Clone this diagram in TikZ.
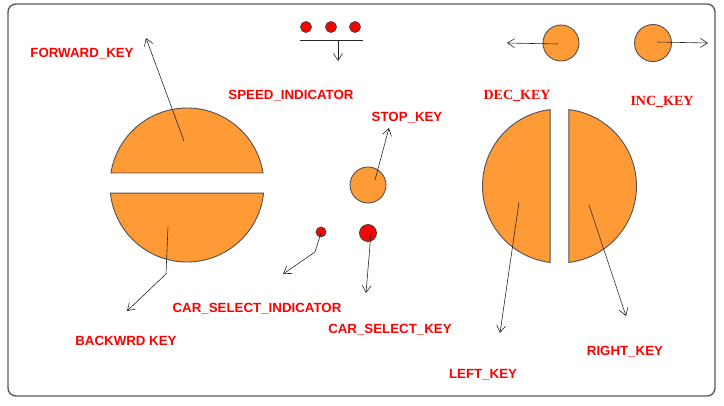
\documentclass[tikz,border=0pt]{standalone}
\usepackage{fontspec}
\setmainfont{Liberation Sans}
\newfontfamily\serifb{Liberation Serif}
\usetikzlibrary{arrows.meta}
\definecolor{keyorange}{RGB}{255,155,55}
\definecolor{edgegray}{RGB}{80,80,80}
\definecolor{lblred}{RGB}{255,0,0}
\tikzset{
 key/.style={fill=keyorange,draw=edgegray,line width=0.9pt},
 keycirc/.style={key,circle,inner sep=0pt,minimum size=#1},
 led/.style={circle,fill=red,draw=black!75,line width=0.8pt,inner sep=0pt,minimum size=#1},
 lbl/.style={text=lblred,font=\bfseries\fontsize{13.3}{15}\selectfont,inner sep=0pt},
 lbltwo/.style={text=lblred,font=\serifb\bfseries\fontsize{14}{16}\selectfont,inner sep=0pt},
 ptr/.style={draw=black!85,line width=0.6pt,-{Straight Barb[length=7pt,width=9pt]}},
}
\begin{document}
\begin{tikzpicture}[x=1pt,y=1pt]
\useasboundingbox (0,0) rectangle (724,-405);
% frame
\draw[rounded corners=8pt,draw=black!65,line width=1.4pt] (8,-4) rectangle (715,-396);

% forward / backward keys
\coordinate (fbc) at (187,-185);
\draw[key] ([shift={(9:77)}]fbc) arc[start angle=9,end angle=171,radius=77] -- cycle;
\draw[key] ([shift={(-6:77)}]fbc) arc[start angle=-6,end angle=-174,radius=77] -- cycle;

% left / right keys
\coordinate (lrc) at (559.5,-186);
\draw[key] ([shift={(97:77)}]lrc) arc[start angle=97,end angle=263,radius=77] -- cycle;
\draw[key] ([shift={(83:77)}]lrc) arc[start angle=83,end angle=-83,radius=77] -- cycle;

% small keys
\node[keycirc=36pt] (dec) at (561,-43) {};
\node[keycirc=37pt] (inc) at (653,-43) {};
\node[keycirc=36pt] (stop) at (368,-185) {};
\node[led=17pt] (csk) at (368,-233) {};
\node[led=10pt] (csi) at (321,-232) {};

% speed indicator
\node[led=11pt] (s1) at (306,-27) {};
\node[led=11pt] (s2) at (331,-27) {};
\node[led=11pt] (s3) at (355,-27) {};
\coordinate (barl) at (300,-40);
\coordinate (barr) at (363,-40);
\draw[black!85,line width=0.8pt] (barl) -- (barr);

% labels
\node[lbl] (lfwd) at (82,-54) {FORWARD\_KEY};
\node[lbl] (lspd) at (291,-96) {SPEED\_INDICATOR};
\node[lbl] (lstop) at (407,-118) {STOP\_KEY};
\node[lbltwo] (ldec) at (517,-96) {DEC\_KEY};
\node[lbltwo] (linc) at (662,-102) {INC\_KEY};
\node[lbl] (lcsi) at (257,-309) {CAR\_SELECT\_INDICATOR};
\node[lbl] (lcsk) at (390,-330) {CAR\_SELECT\_KEY};
\node[lbl] (lbwd) at (126,-341) {BACKWRD KEY};
\node[lbl] (lleft) at (483,-375) {LEFT\_KEY};
\node[lbl] (lright) at (625,-352) {RIGHT\_KEY};

% pointer coordinates
\coordinate (fwdin) at (184,-141);
\coordinate (fwdout) at (146,-38);
\coordinate (bwdin) at (168,-227);
\coordinate (bwdmid) at (166,-274);
\coordinate (bwdout) at (127,-311);
\coordinate (spdmid) at (338,-40);
\coordinate (spdout) at (338,-61);
\coordinate (stopin) at (375,-180);
\coordinate (stopout) at (389,-128);
\coordinate (decin) at (558,-44);
\coordinate (decout) at (507,-43);
\coordinate (incin) at (657,-42);
\coordinate (incout) at (708,-43);
\coordinate (csiin) at (321,-233);
\coordinate (csimid) at (315,-252);
\coordinate (csiout) at (283,-274);
\coordinate (cskin) at (371,-233);
\coordinate (cskout) at (366,-293);
\coordinate (leftin) at (519,-202);
\coordinate (leftout) at (500,-333);
\coordinate (rightin) at (589,-205);
\coordinate (rightout) at (626,-316);

% pointers
\draw[ptr] (fwdin) -- (fwdout);
\draw[ptr] (bwdin) -- (bwdmid) -- (bwdout);
\draw[ptr] (spdmid) -- (spdout);
\draw[ptr] (stopin) -- (stopout);
\draw[ptr] (decin) -- (decout);
\draw[ptr] (incin) -- (incout);
\draw[ptr] (csiin) -- (csimid) -- (csiout);
\draw[ptr] (cskin) -- (cskout);
\draw[ptr] (leftin) -- (leftout);
\draw[ptr] (rightin) -- (rightout);
\end{tikzpicture}
\end{document}
